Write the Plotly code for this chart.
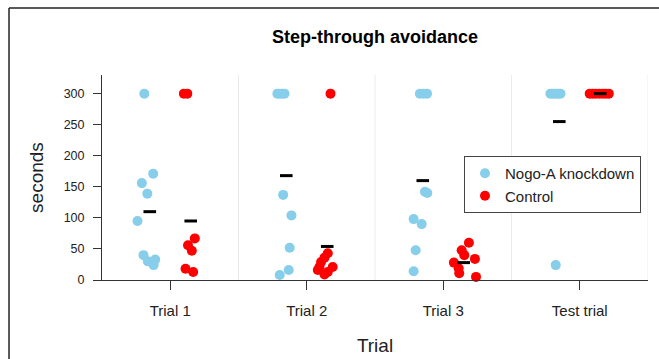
import plotly.graph_objects as go

# ---- data ----
trials = ["Trial 1", "Trial 2", "Trial 3", "Test trial"]

# Nogo-A knockdown (blue)
nogo_trial = [0]*9 + [1]*9 + [2]*9 + [3]*6
nogo_value = [300, 171, 156, 139, 95, 40, 30, 33, 24,
              300, 300, 300, 300, 137, 104, 52, 16, 8,
              300, 300, 300, 142, 140, 98, 90, 48, 14,
              300, 300, 300, 300, 300, 24]
nogo_jitter = [-0.04, 0.025, -0.058, -0.018, -0.09, -0.046, -0.014, 0.04, 0.028,
               -0.065, -0.048, -0.03, -0.013, -0.023, 0.038, 0.025, 0.018, -0.048,
               -0.021, 0.005, 0.031, 0.016, 0.033, -0.067, -0.008, -0.052, -0.067,
               -0.065, -0.048, -0.03, -0.011, 0.009, -0.026]

# Control (red)
ctrl_trial = [0]*7 + [1]*9 + [2]*8 + [3]*7
ctrl_value = [300, 300, 67, 56, 47, 18, 13,
              300, 43, 36, 29, 21, 16, 21, 13, 9,
              60, 48, 40, 34, 28, 19, 11, 5,
              300, 300, 300, 300, 300, 300, 300]
ctrl_jitter = [-0.05, -0.025, 0.03, -0.02, 0.008, -0.038, 0.018,
               0.024, 0.004, -0.02, -0.045, -0.057, -0.069, 0.04, 0.004, -0.02,
               0.038, -0.015, 0.004, 0.082, -0.072, -0.037, -0.033, 0.09,
               -0.077, -0.055, -0.033, -0.007, 0.018, 0.041, 0.063]

# group means (black dashes)
nogo_mean = [110, 168, 160, 255]
ctrl_mean = [95, 54, 28, 300]

# ---- styling ----
OFFSET = 0.15
BLUE = "#87CEEB"
RED = "#FF0000"
FONT = "Liberation Sans, Arial, sans-serif"
AX = "#333333"

fig = go.Figure()

fig.add_trace(go.Scatter(
    x=[t - OFFSET + j for t, j in zip(nogo_trial, nogo_jitter)], y=nogo_value,
    mode="markers", name="Nogo-A knockdown",
    marker=dict(color=BLUE, size=10, line=dict(width=0)), cliponaxis=False))
fig.add_trace(go.Scatter(
    x=[t + OFFSET + j for t, j in zip(ctrl_trial, ctrl_jitter)], y=ctrl_value,
    mode="markers", name="Control",
    marker=dict(color=RED, size=10, line=dict(width=0)), cliponaxis=False))

fig.add_trace(go.Scatter(
    x=[i - OFFSET for i in range(len(trials))], y=nogo_mean, mode="markers",
    showlegend=False,
    marker=dict(symbol="line-ew", size=9, color="black", line=dict(width=3, color="black"))))
fig.add_trace(go.Scatter(
    x=[i + OFFSET for i in range(len(trials))], y=ctrl_mean, mode="markers",
    showlegend=False,
    marker=dict(symbol="line-ew", size=9, color="black", line=dict(width=3, color="black"))))

shapes = []
for b in [0.5, 1.5, 2.5, 3.5]:
    shapes.append(dict(type="line", xref="x", yref="paper", x0=b, x1=b, y0=0, y1=1,
                       line=dict(color="#ebebeb", width=1), layer="below"))
# outer frame (left and top)
shapes.append(dict(type="line", xref="paper", yref="paper", x0=-0.1703, x1=-0.1703,
                   y0=-0.5, y1=1.327, line=dict(color="#222", width=1.5)))
shapes.append(dict(type="line", xref="paper", yref="paper", x0=-0.1703, x1=1.2,
                   y0=1.327, y1=1.327, line=dict(color="#222", width=1.5)))

fig.update_layout(
    width=659, height=359,
    margin=dict(l=102, r=11, t=75, b=79),
    paper_bgcolor="white", plot_bgcolor="white",
    font=dict(family=FONT, color="#222"),
    title=dict(text="<b>Step-through avoidance</b>", x=0.5, xref="paper",
               y=1 - 37/359, yanchor="middle", font=dict(size=18, color="black"),
               automargin=False),
    shapes=shapes,
    legend=dict(x=0.663, y=0.605, xanchor="left", yanchor="top",
                bgcolor="white", bordercolor="#444", borderwidth=1,
                font=dict(size=15, color="#222"), itemwidth=30),
    xaxis=dict(range=[-0.5, 3.5], tickvals=list(range(len(trials))), ticktext=trials,
               ticks="outside", ticklen=9, tickcolor=AX, showline=True, linecolor=AX,
               showgrid=False, zeroline=False, tickfont=dict(size=15),
               ticklabelstandoff=8, automargin=False,
               title=dict(text="Trial", font=dict(size=19), standoff=20)),
    yaxis=dict(range=[0, 330], tickvals=[0, 50, 100, 150, 200, 250, 300],
               ticks="outside", ticklen=8, tickcolor=AX, showline=True, linecolor=AX,
               showgrid=False, zeroline=False, tickfont=dict(size=12.5),
               ticklabelstandoff=6, automargin=False,
               title=dict(text="seconds", font=dict(size=19), standoff=14)),
)

fig.write_html("out.html")
